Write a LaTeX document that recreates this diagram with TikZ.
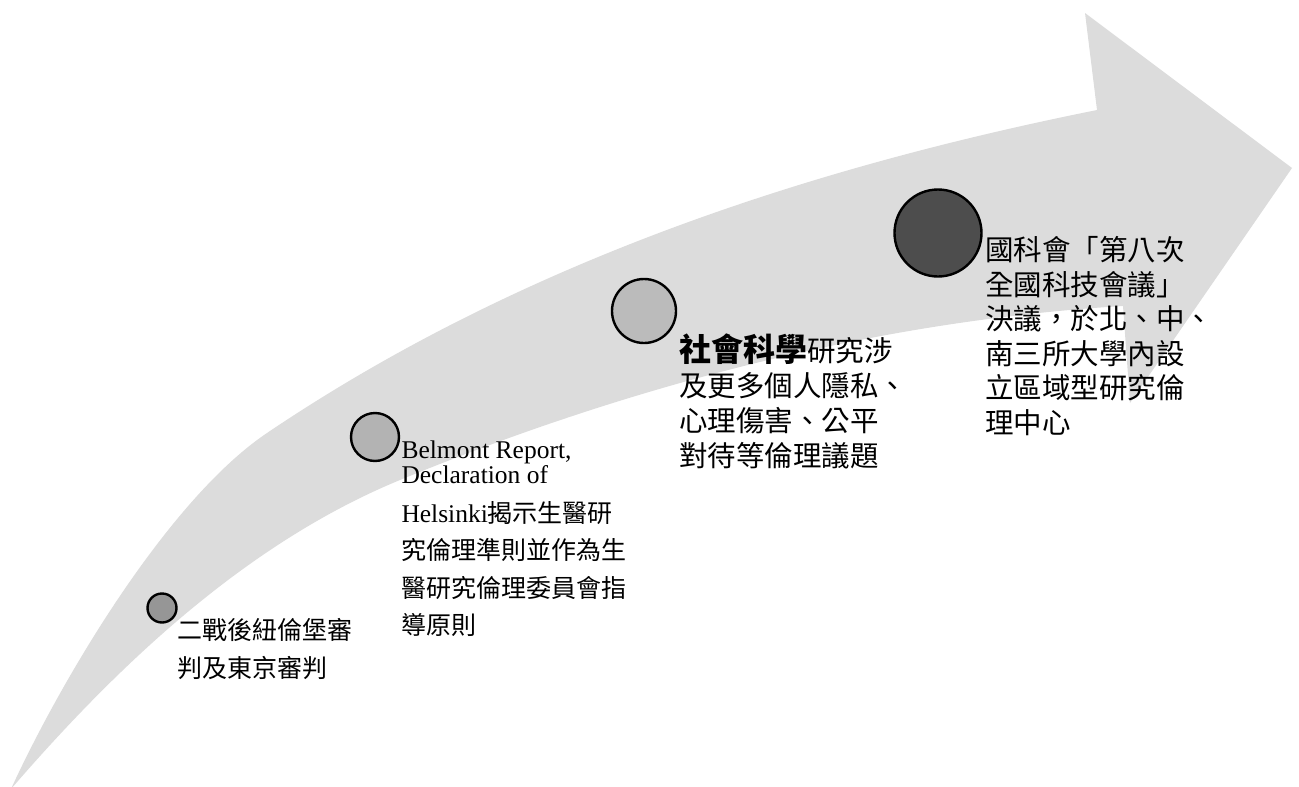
\documentclass[tikz,border=0pt]{standalone}
\usepackage{fontspec}
\setmainfont{Liberation Serif}
\newfontfamily\cjk{Noto Sans CJK TC}
\definecolor{arrowgrey}{HTML}{DCDCDC}
\definecolor{dotA}{HTML}{969696}
\definecolor{dotB}{HTML}{B3B3B3}
\definecolor{dotC}{HTML}{BBBBBB}
\definecolor{dotD}{HTML}{4D4D4D}
\tikzset{
  dot/.style={circle, draw=black, line width=2.4pt, inner sep=0pt},
  lab/.style={anchor=base west, inner sep=0pt, outer sep=0pt, text=black}
}
\begin{document}
\begin{tikzpicture}[x=1pt,y=-1pt]
\useasboundingbox (0,0) rectangle (1299,787);
% big curved arrow
\coordinate (tail) at (11,789);
\coordinate (um) at (267,433);
\coordinate (un) at (1097,110);
\coordinate (ub) at (1085,13);
\coordinate (tip) at (1292,168);
\coordinate (lb) at (1130,403);
\coordinate (ln) at (1123,306);
\coordinate (lm) at (400,480);
\fill[arrowgrey] (tail) .. controls (61,680) and (167.5,500) .. (um)
  .. controls (516,265) and (803,169) .. (un)
  -- (ub) -- (tip) -- (lb) -- (ln)
  .. controls (875,321) and (629,386) .. (lm)
  .. controls (247,543) and (119,664) .. (tail) -- cycle;
% circles
\node[dot, fill=dotA, minimum size=29pt] (c1) at (162,608) {};
\node[dot, fill=dotB, minimum size=48pt] (c2) at (375,437) {};
\node[dot, fill=dotC, minimum size=64pt] (c3) at (644,311) {};
\node[dot, fill=dotD, minimum size=87pt] (c4) at (938,233) {};
% labels
\node[lab] (t1) at (177,639) {\cjk\fontsize{25}{38}\selectfont\vtop{\hbox{二戰後紐倫堡審}\hbox{判及東京審判}}};
\node[lab] (t2) at (401.5,458) {\fontsize{25.5}{37.5}\selectfont\vtop{\hbox{Belmont Report,}\vskip-12.5pt\hbox{Declaration of}\vskip1.5pt\hbox{Helsinki{\cjk\fontsize{25}{37.5}\selectfont 揭示生醫研}}\hbox{\cjk\fontsize{25}{37.5}\selectfont 究倫理準則並作為生}\hbox{\cjk\fontsize{25}{37.5}\selectfont 醫研究倫理委員會指}\hbox{\cjk\fontsize{25}{37.5}\selectfont 導原則}}};
\node[lab] (t3) at (679,361.5) {\cjk\fontsize{28.5}{35}\selectfont\vtop{\hbox{{\bfseries\fontsize{32}{35}\selectfont 社會科學}研究涉}\hbox{及更多個人隱私、}\hbox{心理傷害、公平}\hbox{對待等倫理議題}}};
\node[lab] (t4) at (985,260.5) {\cjk\fontsize{28.5}{34.6}\selectfont\vtop{\hbox{國科會「第八次}\hbox{全國科技會議」}\hbox{決議，於北、中、}\hbox{南三所大學內設}\hbox{立區域型研究倫}\hbox{理中心}}};
\end{tikzpicture}
\end{document}
